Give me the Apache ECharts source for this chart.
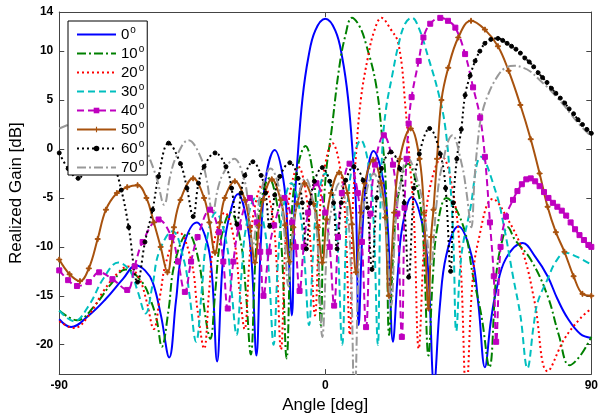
<!DOCTYPE html>
<html><head><meta charset="utf-8">
<script src="https://cdn.jsdelivr.net/npm/echarts@6/dist/echarts.min.js"></script>
<style>html,body{margin:0;padding:0;background:#fff}#c{width:601px;height:419px}</style>
</head><body><div id="c"></div>
<script>
const seriesNames = ['0°','10°','20°','30°','40°','50°','60°','70°'];
const xTickLabels = [-90, 0, 90];
const yTickLabels = [-20, -15, -10, -5, 0, 5, 10, 14];
const yTicks = [-20, -15, -10, -5, 0, 5, 10];

const gain0 = [[-90,-17.4],[-86,-18.2],[-80,-17],[-74.2,-15.3],[-68.5,-13.3],[-64,-11.9],[-61,-12.4],[-58.4,-13.6],[-55.6,-17],[-52.8,-21.3],[-50.5,-15.5],[-48.2,-10.2],[-43.5,-7.5],[-40,-9.5],[-38.3,-13],[-36.6,-21.7],[-34.8,-12],[-33,-7.6],[-29.5,-4.6],[-26.4,-7.6],[-24.8,-12],[-23.3,-21.1],[-21.8,-9.5],[-20.2,-3.1],[-17.1,-0.1],[-14.2,-3.1],[-12.8,-8.1],[-11.3,-17],[-10.4,-6],[-9.4,-1],[-7.7,5.2],[-5.7,9.4],[-3.4,12.1],[0,13.3],[3.4,12.1],[5.7,9.4],[7.7,5.2],[9.4,-1],[10.4,-6],[11.3,-18],[12.6,-8.2],[13.9,-3.2],[16.3,-0.2],[19.6,-3.2],[21.2,-8.2],[22.9,-19.7],[24.5,-12.9],[26.1,-7.9],[29.3,-4.9],[33,-7.9],[34.9,-12.9],[36.8,-24],[38.8,-15.9],[40.9,-10.9],[45,-7.9],[49.5,-10.9],[51.8,-15.9],[54,-22.3],[56,-17.6],[57.8,-14.5],[61.1,-11.2],[66.8,-9.6],[71,-11],[75.2,-13],[78.5,-15.3],[82,-17.3],[86.3,-18.9],[90,-19.3]];

const gain10 = [[-90,-16.5],[-84,-17.5],[-78,-16],[-72.5,-13.8],[-67.5,-12.3],[-62,-13.6],[-59,-15.5],[-57,-17.5],[-55.3,-20.2],[-53.1,-16.6],[-50.9,-11.6],[-46.5,-8.6],[-42.7,-11.6],[-40.8,-16.6],[-38.9,-19.4],[-37.2,-14.5],[-35.5,-9.5],[-32,-6.5],[-28.6,-9.5],[-26.9,-14.5],[-25.2,-21],[-23.6,-11],[-22.1,-6],[-19,-3],[-16.1,-6],[-14.6,-11],[-13.1,-21.4],[-11.5,-7.7],[-9.9,-2.7],[-6.7,0.3],[-4.1,-2.7],[-2.8,-7.7],[-1.5,-18],[-0.6,-6.5],[0.4,-2],[2,1.6],[4.7,8.3],[6.8,11.6],[9,13.4],[11.5,12.6],[13.8,10.7],[17.1,6.7],[19.1,1.6],[20.5,-3.9],[21.6,-19],[23.2,-9.5],[24.8,-4.5],[28,-1.5],[31.5,-4.5],[33.2,-9.5],[34.9,-21.1],[36.4,-13],[37.9,-8],[41,-5],[46.7,-7.9],[50,-13],[52.8,-17],[55.5,-22.3],[57.8,-13],[59.5,-9.8],[61.8,-8],[64,-9.2],[69.5,-11.3],[75.2,-15],[79,-19],[82.6,-22.1],[86.3,-21.1],[90,-19.2]];

const gain20 = [[-90,-17.6],[-85,-18.3],[-80,-17],[-75,-14.5],[-70,-12.6],[-66.8,-12],[-63,-13.2],[-60.5,-15.5],[-58,-18.4],[-55.9,-15],[-53.8,-11.5],[-49.5,-8.5],[-45.3,-11.5],[-43.2,-16.5],[-41,-20.4],[-39.3,-14.5],[-37.6,-9.5],[-34,-6.5],[-30.7,-9.5],[-29,-14.5],[-27.3,-18.4],[-25.7,-11.5],[-24.2,-6.5],[-21,-3.5],[-18,-6.5],[-16.5,-11.5],[-15,-20.5],[-13.5,-9.8],[-12.1,-4.8],[-9.1,-1.8],[-6.4,-4.8],[-5,-9.8],[-3.5,-17],[-2,-7.4],[-0.5,-2.4],[2.4,0.6],[5.3,-2.4],[6.8,-7.4],[8.3,-19],[9.3,-6],[10.3,-1],[12,5],[14.5,9.5],[16.5,12],[19,13.4],[22,12.3],[24.8,10.7],[27.2,4],[28.5,-1],[30,-7],[31.6,-20.4],[33.6,-8.8],[35.5,-3.8],[39.5,-0.8],[43.3,-4.5],[45.7,-11.3],[47.7,-25],[49.7,-14],[51.7,-9.5],[56.7,-5.1],[61.8,-7.2],[66.8,-10.5],[70.8,-15.6],[75.2,-22.7],[80.9,-19.4],[86.3,-17.3],[90,-16.3]];

const gain30 = [[-90,-16.5],[-85,-17.6],[-80,-16],[-75,-13.2],[-70,-11.6],[-66,-12.5],[-63.5,-14.5],[-60.8,-16.8],[-58.5,-14],[-56.2,-10.5],[-51.7,-8.4],[-47.8,-11.4],[-45.9,-15],[-43.7,-19.7],[-41.8,-14.5],[-40.2,-9.5],[-37,-6.5],[-33.5,-9.5],[-31.7,-14.5],[-30,-19],[-28.4,-13],[-26.8,-8],[-23.6,-5],[-20.6,-8],[-19,-13],[-17.5,-20],[-16,-11.5],[-14.5,-6.5],[-11.5,-3.5],[-8.5,-6.5],[-7,-11.5],[-5.5,-18],[-4.1,-10.5],[-2.7,-5.5],[0,-2.5],[2.9,-5.5],[4.3,-10.5],[5.7,-20],[7.3,-7.1],[8.9,-2.1],[12,0.9],[14.9,-2.1],[16.3,-7.1],[17.8,-20],[18.5,-8],[19.3,0],[20.5,4],[22.5,7.3],[24.8,10.7],[27,12.8],[29.3,13.4],[31.6,12.4],[34.9,9.3],[38.3,5.7],[40.6,2.2],[42.3,-3.5],[43.4,-10],[44.3,-18.6],[46,-11],[49,-6.2],[52.7,-0.8],[57.8,-4.5],[60.5,-8],[63.5,-13],[66,-17],[68.4,-22.4],[70.5,-18],[71.9,-15.6],[75.2,-13.3],[78,-11.5],[81.3,-10.6],[85,-11],[90,-11.8]];

const gain40 = [[-90,-12.4],[-87,-13.4],[-84,-14],[-80,-13.6],[-76.5,-12.6],[-72,-13.3],[-67,-14.4],[-64.5,-12],[-61.8,-9.5],[-56.4,-7.2],[-52,-9],[-49.8,-11.5],[-47.5,-14.6],[-45.4,-11.5],[-43.2,-9],[-39,-6.2],[-36,-8.5],[-34.5,-11.5],[-33,-16.3],[-31.1,-11.5],[-29.2,-8],[-25.5,-5],[-23.2,-7.5],[-22,-10.5],[-20.9,-15],[-19.1,-10.5],[-17.3,-7.8],[-13.8,-5],[-11.2,-7.5],[-10,-10],[-8.7,-14.5],[-7.3,-10],[-5.8,-6.5],[-3,-3.5],[0,-6.5],[1.5,-10],[3,-16],[4.3,-9],[5.6,-4.5],[8.2,-1.5],[11,-4.5],[12.4,-9.5],[13.8,-18.2],[15.3,-6.6],[16.8,-1.6],[19.8,1.4],[22.9,-1.6],[24.4,-6.6],[25.9,-19.2],[26.8,-6],[27.5,-1],[28.2,2.6],[29.2,5.3],[31.6,9],[33.2,11.4],[35.5,12.8],[38.9,13.4],[41.5,13.1],[44,12.4],[47.3,9.7],[50,6.3],[52.4,3.2],[54,-0.8],[55.7,-7.5],[57,-13],[57.8,-19.7],[59.3,-10],[61.1,-6.9],[63.5,-5.2],[65,-4.3],[66.5,-3.6],[68,-3.1],[69.5,-3],[71,-3.3],[72.5,-3.8],[74,-4.4],[75.5,-5],[77,-5.5],[78.5,-5.9],[80,-6.3],[81.5,-6.8],[83,-7.5],[84.5,-8.2],[86,-8.8],[87.5,-9.3],[89,-9.8],[90,-10]];

const gain50 = [[-90,-11.3],[-86.5,-12.8],[-83,-13.5],[-80,-12.2],[-77,-9.2],[-74.2,-6.2],[-70.5,-4.5],[-67,-3.9],[-63.5,-3.7],[-60.5,-5],[-58,-7.5],[-55.7,-10],[-53.4,-12.6],[-51.2,-8],[-49,-5.2],[-44.7,-3],[-41,-5],[-39.2,-7.5],[-37.3,-10.6],[-35.6,-7.5],[-34,-5],[-30.6,-3.3],[-27.2,-5.2],[-25.5,-8],[-23.8,-11.6],[-22.4,-7.8],[-21,-5.2],[-18.1,-3.1],[-15.1,-5.2],[-13.6,-7.8],[-12.1,-11.5],[-10.8,-8],[-9.5,-5.6],[-7,-3.5],[-4,-5.6],[-2.5,-8],[-1,-11.6],[0.4,-7.2],[1.9,-4.5],[4.7,-2.4],[7.5,-4.5],[9,-7.7],[10.4,-12.6],[12,-6.5],[13.3,-3.5],[16.2,-1.1],[18.9,-3.5],[20.3,-7],[21.5,-15],[23.3,-6.5],[25.2,-1],[28.9,2.1],[31.9,-1],[33.4,-6.5],[34.9,-16.3],[35.8,-9],[36.6,-6.2],[37.8,-1],[39.3,5],[41.6,8.3],[45,11.4],[49.3,13.1],[54,12.2],[58.4,10.5],[62,8],[66,4.5],[69.5,1],[72.5,-2.5],[75.2,-5.9],[78,-8.5],[80.9,-10.5],[84,-13],[87,-14.8],[90,-15]];

const gain60 = [[-90,-0.4],[-87,-2],[-83.6,-3],[-80,-1.5],[-76,-0.5],[-72,-1.5],[-69,-4.2],[-66.5,-8],[-63.5,-13.6],[-61,-9.5],[-58.4,-6.2],[-56.4,-2.8],[-53,0.6],[-49,-1.5],[-46.8,-4],[-44.7,-6.9],[-42.9,-3.5],[-41,-1.8],[-37.3,-0.4],[-33.6,-1.8],[-31.7,-4],[-29.9,-7.7],[-28.5,-4.5],[-27.2,-2.7],[-24.5,-1.3],[-21.7,-2.7],[-20.2,-4.5],[-18.8,-7.9],[-17.1,-4.7],[-15.4,-2.8],[-12,-1.4],[-9.2,-3],[-7.8,-5.5],[-6.4,-10.2],[-5.1,-5.5],[-3.7,-3.3],[-1,-1.9],[1.5,-3.3],[2.8,-5.5],[4,-10.2],[5.4,-5.5],[6.9,-3.2],[9.7,-1.8],[12.8,-3.2],[14.3,-6],[15.8,-12.3],[17.4,-5],[19,-2],[22.2,-0.3],[25.2,-2],[26.7,-5.5],[28.2,-13.1],[30,-4],[31.8,-0.5],[35.3,2.1],[38.9,-0.5],[40.7,-4],[42.4,-12.5],[43.3,-5.5],[44.5,-1],[46,2],[47.3,5.5],[49,7.5],[50.7,9],[52.3,10],[54,10.8],[56,11.2],[58.4,11.3],[60,11.1],[61.5,10.8],[63,10.5],[64.5,10.2],[66,9.8],[67.5,9.3],[69,8.9],[70.5,8.4],[72,7.8],[73.5,7.3],[75,6.8],[76.5,6.2],[78,5.7],[79.5,5.2],[81,4.7],[82.5,4.1],[84,3.6],[85.5,3],[87,2.5],[88.5,2],[90,1.6]];

const gain70 = [[-90,2.1],[-86,2.6],[-80,3.4],[-73,3.6],[-66,2.8],[-63,1.7],[-60,-0.5],[-57,-3],[-54.5,-5.7],[-52.5,-2.8],[-50.4,-0.8],[-46.3,0.9],[-42.2,-0.8],[-40.1,-3.2],[-38.1,-6.5],[-36.3,-4],[-34.5,-2.5],[-30.8,-1],[-27.7,-2.8],[-26.1,-5.5],[-24.6,-10],[-23.1,-7],[-21.5,-4],[-18.5,-2],[-15.5,-4.2],[-14,-8],[-12.5,-14],[-11,-8.5],[-9.6,-5.5],[-6.7,-3],[-3.9,-5.8],[-2.4,-10.5],[-1,-19.2],[0.5,-10.5],[1.9,-6.5],[4.8,-3.5],[7.4,-6.5],[8.6,-11.5],[9.9,-26],[11.5,-10.5],[13.2,-5.5],[16.4,-2.5],[19.4,-5.5],[20.9,-9.5],[22.3,-16],[23.8,-7.5],[25.3,-3.9],[27.8,-0.9],[31.8,-3.9],[33.7,-7],[35.7,-12],[37.5,-6],[39.3,-2],[43,1.4],[46.2,-1.6],[47.8,-4.5],[49.4,-8],[50.5,-3],[51.5,0.5],[52.7,3.2],[55,5.5],[58.4,7.5],[61,8.3],[64,8.5],[67,8.3],[69.5,7.9],[72,7.2],[75.2,6.3],[78,5.4],[80.9,4.4],[83.5,3.4],[86.3,2.4],[90,1.3]];

const seriesData = [gain0, gain10, gain20, gain30, gain40, gain50, gain60, gain70];
const colors = ['#0000ff','#008000','#ff0000','#00bfbf','#bf00bf','#a8520e','#000000','#999999'];
const dashes = ['solid',[9,3,2,3],[2,3],[7,4],[7,4],'solid',[2,3],[9,3,2,3]];
const symbols = ['none','none','none','none','rect','path://M4,0h2v4h4v2h-4v4h-2v-4h-4v-2h4z','circle','none'];
const symbolSizes = [0,0,0,0,5,5,4,0];

const FONT = 'Liberation Sans, Arial, sans-serif';
const chart = echarts.init(document.getElementById('c'), null, {renderer:'canvas'});
const series = seriesNames.map((n,i)=>({
  name: n, type:'line', data: seriesData[i], smooth: 0.4,
  symbol: symbols[i], symbolSize: symbolSizes[i], showSymbol: symbols[i] !== 'none', showAllSymbol: true,
  clip: true, color: colors[i],
  lineStyle: {color: colors[i], width: 2, type: dashes[i]},
  itemStyle: {color: colors[i], borderColor: colors[i]},
  emphasis: {disabled: true}
}));

chart.setOption({
  animation: false,
  backgroundColor: '#fff',
  grid: {left: 58, right: 7, top: 12, bottom: 43, show: false},
  legend: {
    orient: 'vertical', left: 68, top: 21,
    backgroundColor: '#fff', borderColor: '#000', borderWidth: 1,
    padding: [4, 3, 0, 8], itemWidth: 39, itemHeight: 7, itemGap: 2,
    data: seriesNames.map((n,i)=> symbols[i]==='none'
      ? {name: n, itemStyle: {opacity: 0}} : {name: n}),
    formatter: n => n.replace('°','') + '{s|o}',
    textStyle: {fontFamily: FONT, fontSize: 15, color: '#000',
      rich: {s: {fontFamily: FONT, fontSize: 10, color:'#000', padding: [0,0,9,1]}}}
  },
  xAxis: [{
    type: 'value', min: -90, max: 90, interval: 90,
    name: 'Angle [deg]', nameLocation: 'middle', nameGap: 15,
    nameTextStyle: {fontFamily: FONT, fontSize: 17, color: '#000'},
    axisLine: {show: true, onZero: false, lineStyle: {color: '#444', width: 1}},
    axisTick: {show: true, inside: true, length: 5, lineStyle: {color: '#444'}},
    axisLabel: {fontFamily: FONT, fontWeight: 'bold', fontSize: 12, color: '#000', margin: 6,
      customValues: xTickLabels},
    splitLine: {show: false}
  }, {
    type: 'value', min: -90, max: 90, interval: 90, position: 'top',
    axisLine: {show: true, onZero: false, lineStyle: {color: '#444', width: 1}},
    axisTick: {show: true, inside: true, length: 5, lineStyle: {color: '#444'}},
    axisLabel: {show: false}, splitLine: {show: false}
  }],
  yAxis: [{
    type: 'value', min: -23, max: 14,
    name: 'Realized Gain [dB]', nameLocation: 'middle', nameGap: 33,
    nameTextStyle: {fontFamily: FONT, fontSize: 17, color: '#000'},
    axisLine: {show: true, onZero: false, lineStyle: {color: '#444', width: 1}},
    axisTick: {show: true, inside: true, length: 5, lineStyle: {color: '#444'}, customValues: yTicks},
    axisLabel: {fontFamily: FONT, fontWeight: 'bold', fontSize: 12, color: '#000', margin: 6,
      customValues: yTickLabels},
    splitLine: {show: false}
  }, {
    type: 'value', min: -23, max: 14, position: 'right',
    axisLine: {show: true, onZero: false, lineStyle: {color: '#444', width: 1}},
    axisTick: {show: true, inside: true, length: 5, lineStyle: {color: '#444'}, customValues: yTicks},
    axisLabel: {show: false}, splitLine: {show: false}
  }],
  series: series
});
</script>
</body></html>
